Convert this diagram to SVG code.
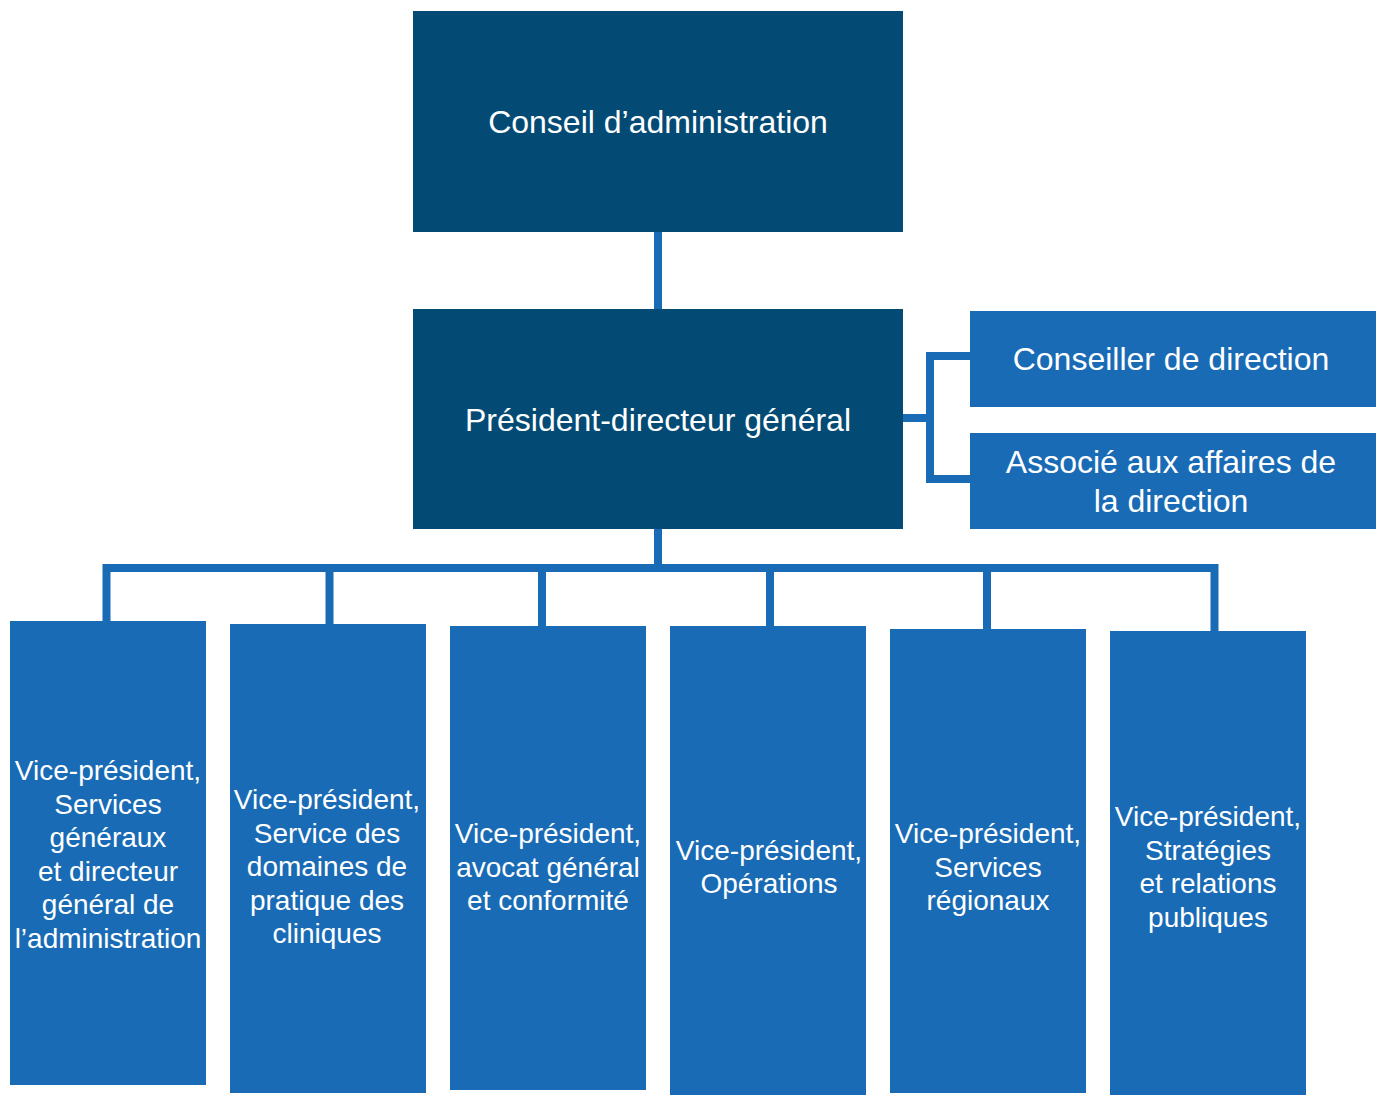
<svg xmlns="http://www.w3.org/2000/svg" width="1376" height="1095" viewBox="0 0 1376 1095">
<style>
.dark{fill:#034b74}
.blue{fill:#196bb5}
.t{font-family:"Liberation Sans",Arial,sans-serif;fill:#ffffff;text-anchor:middle}
.big{font-size:32px}
.sm{font-size:28px}
.c{fill:none;stroke:#196bb5;stroke-width:8}
</style>
<rect width="1376" height="1095" fill="#ffffff"/>
<g id="connectors">
<line class="c" x1="658" y1="232" x2="658" y2="309"/>
<polyline class="c" points="903,418 930,418"/>
<polyline class="c" points="970,356 930,356 930,479 970,479"/>
<line class="c" x1="658" y1="529" x2="658" y2="568"/>
<polyline class="c" points="106.5,621 106.5,568 1214.5,568 1214.5,631"/>
<line class="c" x1="329.5" y1="568" x2="329.5" y2="624"/>
<line class="c" x1="542" y1="568" x2="542" y2="626"/>
<line class="c" x1="770" y1="568" x2="770" y2="626"/>
<line class="c" x1="987" y1="568" x2="987" y2="629"/>
</g>
<g id="conseil-administration">
<rect class="dark" x="413" y="11" width="490" height="221"/>
<text class="t big" x="658" y="133">Conseil d’administration</text>
</g>
<g id="president-directeur-general">
<rect class="dark" x="413" y="309" width="490" height="220"/>
<text class="t big" x="658" y="431">Président-directeur général</text>
</g>
<g id="conseiller-direction">
<rect class="blue" x="970" y="311" width="406" height="96"/>
<text class="t big" x="1171" y="370">Conseiller de direction</text>
</g>
<g id="associe-affaires">
<rect class="blue" x="970" y="433" width="406" height="96"/>
<text class="t big" x="1171" y="473">Associé aux affaires de</text>
<text class="t big" x="1171" y="511.5">la direction</text>
</g>
<g id="vp-services-generaux">
<rect class="blue" x="10" y="621" width="196" height="464"/>
<text class="t sm" x="108" y="780">Vice-président,</text>
<text class="t sm" x="108" y="813.5">Services</text>
<text class="t sm" x="108" y="847">généraux</text>
<text class="t sm" x="108" y="880.5">et directeur</text>
<text class="t sm" x="108" y="914">général de</text>
<text class="t sm" x="108" y="947.5">l’administration</text>
</g>
<g id="vp-domaines-pratique">
<rect class="blue" x="230" y="624" width="196" height="469"/>
<text class="t sm" x="327" y="809">Vice-président,</text>
<text class="t sm" x="327" y="842.5">Service des</text>
<text class="t sm" x="327" y="876">domaines de</text>
<text class="t sm" x="327" y="909.5">pratique des</text>
<text class="t sm" x="327" y="943">cliniques</text>
</g>
<g id="vp-avocat-general">
<rect class="blue" x="450" y="626" width="196" height="464"/>
<text class="t sm" x="548" y="843">Vice-président,</text>
<text class="t sm" x="548" y="876.5">avocat général</text>
<text class="t sm" x="548" y="910">et conformité</text>
</g>
<g id="vp-operations">
<rect class="blue" x="670" y="626" width="196" height="469"/>
<text class="t sm" x="769" y="860">Vice-président,</text>
<text class="t sm" x="769" y="893">Opérations</text>
</g>
<g id="vp-services-regionaux">
<rect class="blue" x="890" y="629" width="196" height="464"/>
<text class="t sm" x="988" y="843">Vice-président,</text>
<text class="t sm" x="988" y="876.5">Services</text>
<text class="t sm" x="988" y="910">régionaux</text>
</g>
<g id="vp-strategies">
<rect class="blue" x="1110" y="631" width="196" height="464"/>
<text class="t sm" x="1208" y="826">Vice-président,</text>
<text class="t sm" x="1208" y="859.5">Stratégies</text>
<text class="t sm" x="1208" y="893">et relations</text>
<text class="t sm" x="1208" y="926.5">publiques</text>
</g>
</svg>
